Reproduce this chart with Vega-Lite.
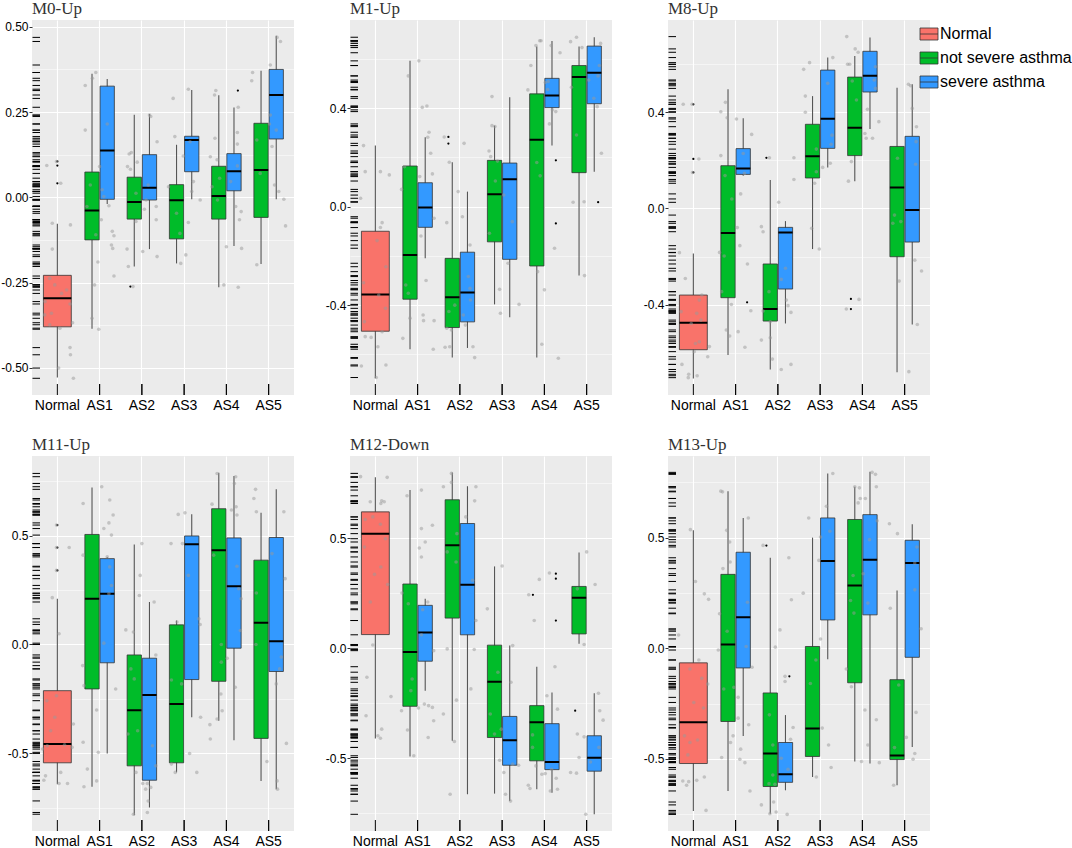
{
"$schema":"https://vega.github.io/schema/vega-lite/v6.json",
"background":"white",
"padding":{"left":0,"top":0,"right":0,"bottom":0},
"config":{
 "view":{"fill":"#EBEBEB","stroke":null},
 "axis":{"domain":false,"gridColor":"#FFFFFF","labelColor":"#000000","labelFont":"Liberation Sans","tickColor":"#333333"},
 "title":{"font":"Liberation Serif","fontSize":17,"fontWeight":"normal","anchor":"start","frame":"group","color":"#333333","offset":2},
 "legend":{"orient":"none","legendX":889,"legendY":6,"labelFont":"Liberation Sans","labelFontSize":16,"labelColor":"#000000","symbolType":"M-1.5,-1H1.5V1H-1.5Z M-1.5,0H1.5","symbolSize":144,"symbolStrokeColor":"#333333","symbolStrokeWidth":1,"rowPadding":8,"labelOffset":3,"padding":0},
 "style":{
  "whisk":{"color":"#555555","strokeWidth":1.1},
  "box":{"stroke":"#333333","strokeWidth":0.8},
  "med":{"color":"#000000","stroke":"#000000","strokeWidth":2},
  "outl":{"color":"#000000","size":5,"opacity":1},
  "jit":{"color":"#999999","size":13,"opacity":0.5},
  "rug":{"color":"#000000","strokeWidth":1}
 }
},
"datasets":{
 "box0":[
  {"cat":"Normal","grp":"Normal","lo":-0.529,"q1":-0.38,"med":-0.296,"q3":-0.229,"hi":-0.078},
  {"cat":"AS1","grp":"not severe asthma","lo":-0.386,"q1":-0.125,"med":-0.039,"q3":0.074,"hi":0.362},
  {"cat":"AS1","grp":"severe asthma","lo":-0.02,"q1":-0.006,"med":0.137,"q3":0.326,"hi":0.347},
  {"cat":"AS2","grp":"not severe asthma","lo":-0.203,"q1":-0.064,"med":-0.014,"q3":0.059,"hi":0.242},
  {"cat":"AS2","grp":"severe asthma","lo":-0.152,"q1":-0.008,"med":0.028,"q3":0.125,"hi":0.244},
  {"cat":"AS3","grp":"not severe asthma","lo":-0.194,"q1":-0.122,"med":-0.009,"q3":0.037,"hi":0.154},
  {"cat":"AS3","grp":"severe asthma","lo":-0.006,"q1":0.075,"med":0.168,"q3":0.179,"hi":0.315},
  {"cat":"AS4","grp":"not severe asthma","lo":-0.264,"q1":-0.064,"med":0.004,"q3":0.091,"hi":0.299},
  {"cat":"AS4","grp":"severe asthma","lo":-0.143,"q1":0.019,"med":0.076,"q3":0.128,"hi":0.263},
  {"cat":"AS5","grp":"not severe asthma","lo":-0.196,"q1":-0.059,"med":0.08,"q3":0.217,"hi":0.371},
  {"cat":"AS5","grp":"severe asthma","lo":-0.006,"q1":0.171,"med":0.3,"q3":0.375,"hi":0.474}
 ],
 "out0":[
  {"cat":"Normal","grp":"Normal","v":0.105},{"cat":"Normal","grp":"Normal","v":0.093},{"cat":"Normal","grp":"Normal","v":0.041},
  {"cat":"AS2","grp":"not severe asthma","v":-0.262},{"cat":"AS4","grp":"severe asthma","v":0.313}
 ],
 "pts0":[
  {"cat":"Normal","v":0.105,"j":-0.02},{"cat":"Normal","v":0.093,"j":-0.25},{"cat":"Normal","v":0.041,"j":0.08},{"cat":"Normal","v":-0.076,"j":-0.12},{"cat":"Normal","v":-0.081,"j":0.31},{"cat":"Normal","v":-0.152,"j":-0.12},{"cat":"Normal","v":-0.238,"j":-0.18},{"cat":"Normal","v":-0.257,"j":-0.06},{"cat":"Normal","v":-0.282,"j":0.1},{"cat":"Normal","v":-0.272,"j":0.22},{"cat":"Normal","v":-0.306,"j":-0.29},{"cat":"Normal","v":-0.313,"j":0.3},{"cat":"Normal","v":-0.34,"j":-0.14},{"cat":"Normal","v":-0.345,"j":-0.3},{"cat":"Normal","v":-0.384,"j":0.06},{"cat":"Normal","v":-0.368,"j":0.36},{"cat":"Normal","v":-0.441,"j":0.3},{"cat":"Normal","v":-0.462,"j":0.31},{"cat":"Normal","v":-0.501,"j":0.03},{"cat":"Normal","v":-0.531,"j":0.38},{"cat":"Normal","v":-0.374,"j":-0.18},
  {"cat":"AS1","v":0.328,"j":-0.34},{"cat":"AS1","v":0.366,"j":-0.09},{"cat":"AS1","v":0.349,"j":-0.17},{"cat":"AS1","v":0.197,"j":-0.34},{"cat":"AS1","v":0.215,"j":0.18},{"cat":"AS1","v":0.09,"j":0},{"cat":"AS1","v":0.036,"j":-0.22},{"cat":"AS1","v":0.022,"j":0.06},{"cat":"AS1","v":-0.027,"j":-0.3},{"cat":"AS1","v":-0.025,"j":0.22},{"cat":"AS1","v":-0.066,"j":0.04},{"cat":"AS1","v":-0.1,"j":0.3},{"cat":"AS1","v":-0.11,"j":-0.09},{"cat":"AS1","v":-0.113,"j":0.34},{"cat":"AS1","v":-0.14,"j":0.28},{"cat":"AS1","v":-0.15,"j":0.31},{"cat":"AS1","v":-0.231,"j":0.34},{"cat":"AS1","v":-0.19,"j":-0.04},{"cat":"AS1","v":-0.257,"j":-0.12},{"cat":"AS1","v":-0.355,"j":-0.18},{"cat":"AS1","v":-0.387,"j":-0.02},{"cat":"AS1","v":0.002,"j":0.1},
  {"cat":"AS2","v":0.127,"j":-0.3},{"cat":"AS2","v":0.131,"j":-0.25},{"cat":"AS2","v":0.09,"j":-0.34},{"cat":"AS2","v":0.082,"j":-0.27},{"cat":"AS2","v":0.103,"j":-0.11},{"cat":"AS2","v":0.241,"j":0.18},{"cat":"AS2","v":0.237,"j":0.21},{"cat":"AS2","v":0.163,"j":0.36},{"cat":"AS2","v":0.036,"j":0.15},{"cat":"AS2","v":-0.008,"j":0.1},{"cat":"AS2","v":-0.035,"j":0.06},{"cat":"AS2","v":-0.027,"j":0.34},{"cat":"AS2","v":-0.071,"j":-0.14},{"cat":"AS2","v":-0.066,"j":0.34},{"cat":"AS2","v":-0.152,"j":-0.35},{"cat":"AS2","v":-0.159,"j":0.02},{"cat":"AS2","v":-0.174,"j":0.36},{"cat":"AS2","v":-0.203,"j":-0.32},{"cat":"AS2","v":-0.262,"j":-0.21},{"cat":"AS2","v":0.012,"j":-0.14},
  {"cat":"AS3","v":0.29,"j":-0.26},{"cat":"AS3","v":0.178,"j":-0.22},{"cat":"AS3","v":0.317,"j":0.1},{"cat":"AS3","v":0.163,"j":0.14},{"cat":"AS3","v":0.121,"j":-0.02},{"cat":"AS3","v":0.046,"j":0.22},{"cat":"AS3","v":0.017,"j":0.18},{"cat":"AS3","v":-0.008,"j":0.38},{"cat":"AS3","v":-0.074,"j":0.1},{"cat":"AS3","v":0.031,"j":-0.37},{"cat":"AS3","v":-0.169,"j":0.04},{"cat":"AS3","v":-0.194,"j":-0.08},{"cat":"AS3","v":-0.047,"j":-0.18},{"cat":"AS3","v":-0.106,"j":-0.1},
  {"cat":"AS4","v":0.313,"j":-0.25},{"cat":"AS4","v":0.3,"j":-0.28},{"cat":"AS4","v":0.119,"j":-0.38},{"cat":"AS4","v":0.173,"j":-0.27},{"cat":"AS4","v":0.11,"j":-0.22},{"cat":"AS4","v":0.056,"j":-0.16},{"cat":"AS4","v":0.046,"j":0.1},{"cat":"AS4","v":0.092,"j":0.26},{"cat":"AS4","v":0.156,"j":0.26},{"cat":"AS4","v":0.264,"j":0.28},{"cat":"AS4","v":0.19,"j":0.26},{"cat":"AS4","v":-0.042,"j":0.35},{"cat":"AS4","v":-0.027,"j":0.22},{"cat":"AS4","v":-0.066,"j":0.31},{"cat":"AS4","v":-0.145,"j":0},{"cat":"AS4","v":-0.15,"j":0.36},{"cat":"AS4","v":-0.257,"j":-0.06},{"cat":"AS4","v":-0.264,"j":0.28},{"cat":"AS4","v":-0.008,"j":-0.21},{"cat":"AS4","v":0.031,"j":-0.34},
  {"cat":"AS5","v":0.366,"j":-0.38},{"cat":"AS5","v":0.342,"j":-0.4},{"cat":"AS5","v":0.388,"j":0.04},{"cat":"AS5","v":0.457,"j":0.28},{"cat":"AS5","v":0.469,"j":0.2},{"cat":"AS5","v":0.241,"j":0.04},{"cat":"AS5","v":0.215,"j":0.02},{"cat":"AS5","v":0.197,"j":0.18},{"cat":"AS5","v":0.149,"j":0.08},{"cat":"AS5","v":0.036,"j":0.14},{"cat":"AS5","v":0.017,"j":0.24},{"cat":"AS5","v":-0.006,"j":0.36},{"cat":"AS5","v":-0.084,"j":0.4},{"cat":"AS5","v":-0.198,"j":-0.28},{"cat":"AS5","v":0.07,"j":-0.2},{"cat":"AS5","v":0.168,"j":-0.28}
 ],
 "box1":[
  {"cat":"Normal","grp":"Normal","lo":-0.697,"q1":-0.506,"med":-0.357,"q3":-0.1,"hi":0.248},
  {"cat":"AS1","grp":"not severe asthma","lo":-0.579,"q1":-0.376,"med":-0.196,"q3":0.165,"hi":0.592},
  {"cat":"AS1","grp":"severe asthma","lo":-0.21,"q1":-0.084,"med":-0.004,"q3":0.097,"hi":0.282},
  {"cat":"AS2","grp":"not severe asthma","lo":-0.613,"q1":-0.491,"med":-0.368,"q3":-0.21,"hi":0.18},
  {"cat":"AS2","grp":"severe asthma","lo":-0.574,"q1":-0.468,"med":-0.349,"q3":-0.185,"hi":0.061},
  {"cat":"AS3","grp":"not severe asthma","lo":-0.397,"q1":-0.143,"med":0.05,"q3":0.188,"hi":0.329},
  {"cat":"AS3","grp":"severe asthma","lo":-0.449,"q1":-0.214,"med":0.111,"q3":0.177,"hi":0.444},
  {"cat":"AS4","grp":"not severe asthma","lo":-0.613,"q1":-0.241,"med":0.272,"q3":0.458,"hi":0.65},
  {"cat":"AS4","grp":"severe asthma","lo":0.248,"q1":0.402,"med":0.451,"q3":0.521,"hi":0.673},
  {"cat":"AS5","grp":"not severe asthma","lo":-0.28,"q1":0.138,"med":0.527,"q3":0.573,"hi":0.65},
  {"cat":"AS5","grp":"severe asthma","lo":0.142,"q1":0.418,"med":0.544,"q3":0.652,"hi":0.688}
 ],
 "out1":[
  {"cat":"AS2","grp":"not severe asthma","v":0.283},{"cat":"AS2","grp":"not severe asthma","v":0.256},
  {"cat":"AS4","grp":"severe asthma","v":0.188},{"cat":"AS4","grp":"severe asthma","v":-0.068},{"cat":"AS5","grp":"severe asthma","v":0.018}
 ],
 "pts1":[
  {"cat":"Normal","v":0.248,"j":-0.28},{"cat":"Normal","v":0.142,"j":-0.24},{"cat":"Normal","v":0.142,"j":0.12},{"cat":"Normal","v":0.129,"j":0.33},{"cat":"Normal","v":-0.065,"j":0.16},{"cat":"Normal","v":-0.085,"j":0.12},{"cat":"Normal","v":-0.138,"j":0.04},{"cat":"Normal","v":-0.244,"j":0.25},{"cat":"Normal","v":-0.309,"j":-0.28},{"cat":"Normal","v":-0.359,"j":0.08},{"cat":"Normal","v":-0.413,"j":0.24},{"cat":"Normal","v":-0.467,"j":-0.26},{"cat":"Normal","v":-0.508,"j":0.16},{"cat":"Normal","v":-0.528,"j":-0.24},{"cat":"Normal","v":-0.531,"j":-0.1},{"cat":"Normal","v":-0.569,"j":0.06},{"cat":"Normal","v":-0.647,"j":-0.33},{"cat":"Normal","v":-0.643,"j":0.25},{"cat":"Normal","v":-0.694,"j":0.02},{"cat":"Normal","v":0.034,"j":-0.35},
  {"cat":"AS1","v":0.531,"j":-0.22},{"cat":"AS1","v":0.592,"j":0.03},{"cat":"AS1","v":0.403,"j":0.11},{"cat":"AS1","v":0.409,"j":0.22},{"cat":"AS1","v":0.302,"j":0.27},{"cat":"AS1","v":0.282,"j":0.24},{"cat":"AS1","v":0.217,"j":0.31},{"cat":"AS1","v":0.162,"j":-0.31},{"cat":"AS1","v":0.07,"j":-0.38},{"cat":"AS1","v":0.133,"j":0.35},{"cat":"AS1","v":0.122,"j":0.05},{"cat":"AS1","v":-0.047,"j":0.39},{"cat":"AS1","v":-0.119,"j":0.08},{"cat":"AS1","v":-0.3,"j":0.2},{"cat":"AS1","v":-0.318,"j":-0.28},{"cat":"AS1","v":-0.352,"j":-0.22},{"cat":"AS1","v":-0.453,"j":-0.18},{"cat":"AS1","v":-0.44,"j":0.13},{"cat":"AS1","v":-0.463,"j":0.14},{"cat":"AS1","v":-0.535,"j":-0.35},{"cat":"AS1","v":-0.579,"j":0.37},{"cat":"AS1","v":-0.463,"j":0.39},
  {"cat":"AS2","v":0.283,"j":-0.37},{"cat":"AS2","v":-0.065,"j":-0.31},{"cat":"AS2","v":0.18,"j":-0.25},{"cat":"AS2","v":0.061,"j":-0.04},{"cat":"AS2","v":0.257,"j":0.1},{"cat":"AS2","v":-0.041,"j":0.06},{"cat":"AS2","v":-0.156,"j":0.24},{"cat":"AS2","v":-0.284,"j":0.2},{"cat":"AS2","v":-0.332,"j":0.24},{"cat":"AS2","v":-0.426,"j":-0.26},{"cat":"AS2","v":-0.379,"j":0.25},{"cat":"AS2","v":-0.501,"j":-0.2},{"cat":"AS2","v":-0.494,"j":-0.31},{"cat":"AS2","v":-0.481,"j":0.13},{"cat":"AS2","v":-0.571,"j":-0.35},{"cat":"AS2","v":-0.569,"j":-0.24},{"cat":"AS2","v":-0.569,"j":0.31},{"cat":"AS2","v":-0.613,"j":0.35},{"cat":"AS2","v":-0.44,"j":0.08},{"cat":"AS2","v":-0.4,"j":-0.12},
  {"cat":"AS3","v":0.447,"j":-0.24},{"cat":"AS3","v":0.329,"j":-0.24},{"cat":"AS3","v":0.325,"j":-0.17},{"cat":"AS3","v":0.226,"j":-0.31},{"cat":"AS3","v":0.203,"j":-0.27},{"cat":"AS3","v":0.185,"j":-0.11},{"cat":"AS3","v":0.104,"j":-0.16},{"cat":"AS3","v":0.047,"j":0.04},{"cat":"AS3","v":-0.061,"j":0.24},{"cat":"AS3","v":-0.108,"j":-0.3},{"cat":"AS3","v":-0.336,"j":-0.06},{"cat":"AS3","v":-0.433,"j":-0.04},{"cat":"AS3","v":-0.397,"j":0.4},{"cat":"AS3","v":-0.23,"j":0.14},
  {"cat":"AS4","v":0.573,"j":-0.32},{"cat":"AS4","v":0.654,"j":-0.2},{"cat":"AS4","v":0.674,"j":-0.11},{"cat":"AS4","v":0.674,"j":-0.08},{"cat":"AS4","v":0.654,"j":0.16},{"cat":"AS4","v":0.625,"j":0.37},{"cat":"AS4","v":0.474,"j":-0.39},{"cat":"AS4","v":0.476,"j":0.08},{"cat":"AS4","v":0.508,"j":0.09},{"cat":"AS4","v":0.386,"j":0.27},{"cat":"AS4","v":0.336,"j":0.12},{"cat":"AS4","v":0.504,"j":0.02},{"cat":"AS4","v":0.179,"j":-0.18},{"cat":"AS4","v":0.125,"j":-0.1},{"cat":"AS4","v":-0.169,"j":0.24},{"cat":"AS4","v":-0.264,"j":-0.16},{"cat":"AS4","v":-0.338,"j":0},{"cat":"AS4","v":-0.559,"j":-0.06},{"cat":"AS4","v":-0.616,"j":0.33},{"cat":"AS4","v":0.393,"j":0.19},
  {"cat":"AS5","v":0.67,"j":-0.38},{"cat":"AS5","v":0.688,"j":-0.24},{"cat":"AS5","v":0.646,"j":-0.11},{"cat":"AS5","v":0.485,"j":-0.36},{"cat":"AS5","v":0.663,"j":0.33},{"cat":"AS5","v":0.573,"j":0.3},{"cat":"AS5","v":0.531,"j":0.27},{"cat":"AS5","v":0.44,"j":0.17},{"cat":"AS5","v":0.406,"j":0.25},{"cat":"AS5","v":0.018,"j":-0.32},{"cat":"AS5","v":0.02,"j":-0.06},{"cat":"AS5","v":-0.28,"j":-0.05},{"cat":"AS5","v":0.514,"j":0.05},{"cat":"AS5","v":0.291,"j":-0.24},{"cat":"AS5","v":0.217,"j":0.35}
 ],
 "box2":[
  {"cat":"Normal","grp":"Normal","lo":-0.706,"q1":-0.587,"med":-0.475,"q3":-0.36,"hi":-0.187},
  {"cat":"AS1","grp":"not severe asthma","lo":-0.609,"q1":-0.371,"med":-0.102,"q3":0.177,"hi":0.494},
  {"cat":"AS1","grp":"severe asthma","lo":0.135,"q1":0.141,"med":0.165,"q3":0.248,"hi":0.374},
  {"cat":"AS2","grp":"not severe asthma","lo":-0.669,"q1":-0.468,"med":-0.418,"q3":-0.231,"hi":0.118},
  {"cat":"AS2","grp":"severe asthma","lo":-0.478,"q1":-0.335,"med":-0.1,"q3":-0.079,"hi":-0.053},
  {"cat":"AS3","grp":"not severe asthma","lo":-0.169,"q1":0.126,"med":0.216,"q3":0.349,"hi":0.466},
  {"cat":"AS3","grp":"severe asthma","lo":0.17,"q1":0.249,"med":0.372,"q3":0.574,"hi":0.626},
  {"cat":"AS4","grp":"not severe asthma","lo":0.113,"q1":0.219,"med":0.335,"q3":0.545,"hi":0.633},
  {"cat":"AS4","grp":"severe asthma","lo":0.329,"q1":0.483,"med":0.551,"q3":0.652,"hi":0.709},
  {"cat":"AS5","grp":"not severe asthma","lo":-0.681,"q1":-0.201,"med":0.087,"q3":0.257,"hi":0.501},
  {"cat":"AS5","grp":"severe asthma","lo":-0.482,"q1":-0.14,"med":-0.007,"q3":0.299,"hi":0.515}
 ],
 "out2":[
  {"cat":"Normal","grp":"Normal","v":0.432},{"cat":"Normal","grp":"Normal","v":0.205},{"cat":"Normal","grp":"Normal","v":0.149},
  {"cat":"AS1","grp":"severe asthma","v":-0.39},{"cat":"AS2","grp":"not severe asthma","v":0.21},
  {"cat":"AS4","grp":"not severe asthma","v":-0.376},{"cat":"AS4","grp":"not severe asthma","v":-0.418}
 ],
 "pts2":[
  {"cat":"Normal","v":0.432,"j":-0.24},{"cat":"Normal","v":0.432,"j":-0.03},{"cat":"Normal","v":0.205,"j":0.13},{"cat":"Normal","v":0.149,"j":-0.02},{"cat":"Normal","v":-0.184,"j":-0.33},{"cat":"Normal","v":-0.291,"j":-0.19},{"cat":"Normal","v":-0.36,"j":0.2},{"cat":"Normal","v":-0.381,"j":0.14},{"cat":"Normal","v":-0.429,"j":-0.29},{"cat":"Normal","v":-0.436,"j":0.08},{"cat":"Normal","v":-0.464,"j":0.18},{"cat":"Normal","v":-0.478,"j":-0.05},{"cat":"Normal","v":-0.574,"j":0.38},{"cat":"Normal","v":-0.561,"j":0.05},{"cat":"Normal","v":-0.554,"j":0.14},{"cat":"Normal","v":-0.616,"j":0.34},{"cat":"Normal","v":-0.648,"j":-0.27},{"cat":"Normal","v":-0.595,"j":0.02},{"cat":"Normal","v":-0.689,"j":-0.11},{"cat":"Normal","v":-0.695,"j":0.09},{"cat":"Normal","v":-0.703,"j":-0.12},
  {"cat":"AS1","v":0.401,"j":-0.35},{"cat":"AS1","v":0.44,"j":-0.24},{"cat":"AS1","v":0.376,"j":-0.2},{"cat":"AS1","v":0.371,"j":0.02},{"cat":"AS1","v":0.307,"j":0.38},{"cat":"AS1","v":0.219,"j":-0.35},{"cat":"AS1","v":0.136,"j":-0.25},{"cat":"AS1","v":0.228,"j":0.18},{"cat":"AS1","v":0.145,"j":0.21},{"cat":"AS1","v":0.039,"j":-0.09},{"cat":"AS1","v":0.06,"j":0.12},{"cat":"AS1","v":-0.08,"j":0.04},{"cat":"AS1","v":-0.155,"j":0.1},{"cat":"AS1","v":-0.183,"j":-0.38},{"cat":"AS1","v":-0.198,"j":-0.27},{"cat":"AS1","v":-0.231,"j":0.28},{"cat":"AS1","v":-0.346,"j":-0.33},{"cat":"AS1","v":-0.425,"j":0.36},{"cat":"AS1","v":-0.399,"j":-0.1},{"cat":"AS1","v":-0.505,"j":-0.22},{"cat":"AS1","v":-0.53,"j":-0.14},{"cat":"AS1","v":-0.512,"j":0.06},{"cat":"AS1","v":-0.577,"j":0.22},
  {"cat":"AS2","v":0.21,"j":-0.2},{"cat":"AS2","v":-0.076,"j":-0.39},{"cat":"AS2","v":-0.097,"j":-0.35},{"cat":"AS2","v":0.025,"j":0.02},{"cat":"AS2","v":0.21,"j":0.38},{"cat":"AS2","v":0.12,"j":0.38},{"cat":"AS2","v":-0.249,"j":0.18},{"cat":"AS2","v":-0.295,"j":0.08},{"cat":"AS2","v":-0.381,"j":0.2},{"cat":"AS2","v":-0.426,"j":-0.35},{"cat":"AS2","v":-0.432,"j":0.31},{"cat":"AS2","v":-0.471,"j":-0.18},{"cat":"AS2","v":-0.547,"j":-0.39},{"cat":"AS2","v":-0.537,"j":-0.18},{"cat":"AS2","v":-0.626,"j":-0.13},{"cat":"AS2","v":-0.669,"j":0.08},{"cat":"AS2","v":-0.648,"j":0.31},{"cat":"AS2","v":-0.404,"j":0.24},{"cat":"AS2","v":-0.346,"j":-0.21},
  {"cat":"AS3","v":0.577,"j":-0.39},{"cat":"AS3","v":0.605,"j":-0.25},{"cat":"AS3","v":0.626,"j":0.3},{"cat":"AS3","v":0.466,"j":-0.35},{"cat":"AS3","v":0.399,"j":-0.35},{"cat":"AS3","v":0.519,"j":0.18},{"cat":"AS3","v":0.304,"j":0.28},{"cat":"AS3","v":0.266,"j":0.26},{"cat":"AS3","v":0.246,"j":-0.09},{"cat":"AS3","v":0.152,"j":-0.09},{"cat":"AS3","v":0.17,"j":0.06},{"cat":"AS3","v":0.104,"j":-0.13},{"cat":"AS3","v":0.187,"j":0.24},{"cat":"AS3","v":-0.169,"j":-0.02},{"cat":"AS3","v":-0.083,"j":-0.2},
  {"cat":"AS4","v":0.713,"j":-0.37},{"cat":"AS4","v":0.662,"j":-0.17},{"cat":"AS4","v":0.648,"j":-0.1},{"cat":"AS4","v":0.598,"j":-0.35},{"cat":"AS4","v":0.598,"j":-0.3},{"cat":"AS4","v":0.529,"j":-0.24},{"cat":"AS4","v":0.45,"j":-0.14},{"cat":"AS4","v":0.411,"j":0.12},{"cat":"AS4","v":0.588,"j":0.31},{"cat":"AS4","v":0.498,"j":0.31},{"cat":"AS4","v":0.533,"j":0.28},{"cat":"AS4","v":0.36,"j":0.39},{"cat":"AS4","v":0.311,"j":0.06},{"cat":"AS4","v":0.291,"j":0.09},{"cat":"AS4","v":0.291,"j":0.24},{"cat":"AS4","v":0.194,"j":-0.26},{"cat":"AS4","v":0.113,"j":-0.33},{"cat":"AS4","v":-0.418,"j":-0.38},{"cat":"AS4","v":-0.378,"j":-0.08},
  {"cat":"AS5","v":0.515,"j":0.09},{"cat":"AS5","v":0.509,"j":0.14},{"cat":"AS5","v":0.339,"j":0.28},{"cat":"AS5","v":0.415,"j":0.18},{"cat":"AS5","v":0.208,"j":-0.17},{"cat":"AS5","v":0.183,"j":0.26},{"cat":"AS5","v":0.277,"j":0.27},{"cat":"AS5","v":-0.028,"j":-0.24},{"cat":"AS5","v":-0.062,"j":-0.28},{"cat":"AS5","v":-0.055,"j":-0.09},{"cat":"AS5","v":-0.215,"j":0.24},{"cat":"AS5","v":-0.26,"j":0.4},{"cat":"AS5","v":-0.302,"j":-0.13},{"cat":"AS5","v":-0.482,"j":0.3},{"cat":"AS5","v":-0.678,"j":0.1}
 ],
 "box3":[
  {"cat":"Normal","grp":"Normal","lo":-0.641,"q1":-0.543,"med":-0.457,"q3":-0.212,"hi":0.21},
  {"cat":"AS1","grp":"not severe asthma","lo":-0.653,"q1":-0.204,"med":0.21,"q3":0.505,"hi":0.721},
  {"cat":"AS1","grp":"severe asthma","lo":-0.5,"q1":-0.084,"med":0.233,"q3":0.394,"hi":0.402},
  {"cat":"AS2","grp":"not severe asthma","lo":-0.784,"q1":-0.557,"med":-0.302,"q3":-0.048,"hi":0.459},
  {"cat":"AS2","grp":"severe asthma","lo":-0.748,"q1":-0.623,"med":-0.232,"q3":-0.063,"hi":0.195},
  {"cat":"AS3","grp":"not severe asthma","lo":-0.587,"q1":-0.543,"med":-0.273,"q3":0.09,"hi":0.11},
  {"cat":"AS3","grp":"severe asthma","lo":-0.334,"q1":-0.161,"med":0.46,"q3":0.498,"hi":0.598},
  {"cat":"AS4","grp":"not severe asthma","lo":-0.35,"q1":-0.169,"med":0.433,"q3":0.623,"hi":0.788},
  {"cat":"AS4","grp":"severe asthma","lo":-0.439,"q1":-0.017,"med":0.267,"q3":0.489,"hi":0.773},
  {"cat":"AS5","grp":"not severe asthma","lo":-0.626,"q1":-0.431,"med":0.1,"q3":0.387,"hi":0.604},
  {"cat":"AS5","grp":"severe asthma","lo":-0.664,"q1":-0.124,"med":0.015,"q3":0.491,"hi":0.712}
 ],
 "out3":[
  {"cat":"Normal","grp":"Normal","v":0.548},{"cat":"Normal","grp":"Normal","v":0.445},{"cat":"Normal","grp":"Normal","v":0.34}
 ],
 "pts3":[
  {"cat":"Normal","v":0.548,"j":-0.02},{"cat":"Normal","v":0.445,"j":-0.02},{"cat":"Normal","v":0.34,"j":-0.02},{"cat":"Normal","v":0.445,"j":0.28},{"cat":"Normal","v":0.215,"j":-0.12},{"cat":"Normal","v":0.049,"j":0.04},{"cat":"Normal","v":-0.365,"j":0.38},{"cat":"Normal","v":-0.334,"j":-0.06},{"cat":"Normal","v":-0.258,"j":-0.25},{"cat":"Normal","v":-0.396,"j":-0.16},{"cat":"Normal","v":-0.48,"j":-0.35},{"cat":"Normal","v":-0.465,"j":-0.24},{"cat":"Normal","v":-0.472,"j":0.35},{"cat":"Normal","v":-0.46,"j":0.17},{"cat":"Normal","v":-0.603,"j":-0.28},{"cat":"Normal","v":-0.623,"j":-0.32},{"cat":"Normal","v":-0.587,"j":0.08},{"cat":"Normal","v":-0.638,"j":0.04},{"cat":"Normal","v":-0.638,"j":0.24},{"cat":"Normal","v":-0.235,"j":-0.02},
  {"cat":"AS1","v":0.647,"j":-0.39},{"cat":"AS1","v":0.724,"j":0.05},{"cat":"AS1","v":0.663,"j":0.24},{"cat":"AS1","v":0.594,"j":0.32},{"cat":"AS1","v":0.558,"j":0.22},{"cat":"AS1","v":0.532,"j":0.1},{"cat":"AS1","v":0.502,"j":0.28},{"cat":"AS1","v":0.402,"j":0.18},{"cat":"AS1","v":0.41,"j":-0.39},{"cat":"AS1","v":0.356,"j":0.24},{"cat":"AS1","v":0.271,"j":0.28},{"cat":"AS1","v":0.233,"j":0.22},{"cat":"AS1","v":0.006,"j":0.1},{"cat":"AS1","v":-0.097,"j":-0.4},{"cat":"AS1","v":-0.189,"j":-0.37},{"cat":"AS1","v":-0.204,"j":0.38},{"cat":"AS1","v":-0.301,"j":-0.07},{"cat":"AS1","v":-0.449,"j":-0.39},{"cat":"AS1","v":-0.495,"j":-0.03},{"cat":"AS1","v":-0.572,"j":-0.29},{"cat":"AS1","v":-0.626,"j":-0.07},{"cat":"AS1","v":-0.653,"j":-0.37},
  {"cat":"AS2","v":0.067,"j":-0.38},{"cat":"AS2","v":0.057,"j":-0.2},{"cat":"AS2","v":0.317,"j":-0.04},{"cat":"AS2","v":0.463,"j":0},{"cat":"AS2","v":0.225,"j":-0.06},{"cat":"AS2","v":0.195,"j":0.29},{"cat":"AS2","v":-0.048,"j":0.33},{"cat":"AS2","v":-0.112,"j":-0.26},{"cat":"AS2","v":-0.158,"j":-0.18},{"cat":"AS2","v":-0.396,"j":-0.1},{"cat":"AS2","v":-0.411,"j":-0.33},{"cat":"AS2","v":-0.465,"j":0.25},{"cat":"AS2","v":-0.557,"j":0.33},{"cat":"AS2","v":-0.587,"j":-0.14},{"cat":"AS2","v":-0.638,"j":0.13},{"cat":"AS2","v":-0.638,"j":0.02},{"cat":"AS2","v":-0.664,"j":0.09},{"cat":"AS2","v":-0.656,"j":0.21},{"cat":"AS2","v":-0.718,"j":0.15},{"cat":"AS2","v":-0.771,"j":0.13},{"cat":"AS2","v":-0.779,"j":-0.2},
  {"cat":"AS3","v":0.463,"j":-0.31},{"cat":"AS3","v":0.597,"j":-0.14},{"cat":"AS3","v":0.604,"j":0.02},{"cat":"AS3","v":0.463,"j":-0.04},{"cat":"AS3","v":0.317,"j":0.1},{"cat":"AS3","v":0.118,"j":0.35},{"cat":"AS3","v":0.092,"j":0.38},{"cat":"AS3","v":0.103,"j":-0.17},{"cat":"AS3","v":-0.163,"j":-0.3},{"cat":"AS3","v":-0.181,"j":-0.06},{"cat":"AS3","v":-0.334,"j":0.39},{"cat":"AS3","v":-0.5,"j":0.13},{"cat":"AS3","v":-0.587,"j":0.3},{"cat":"AS3","v":-0.587,"j":-0.21},{"cat":"AS3","v":-0.549,"j":-0.3},
  {"cat":"AS4","v":0.644,"j":-0.34},{"cat":"AS4","v":0.785,"j":-0.22},{"cat":"AS4","v":0.77,"j":0.22},{"cat":"AS4","v":0.739,"j":0.19},{"cat":"AS4","v":0.632,"j":0.23},{"cat":"AS4","v":0.617,"j":0.12},{"cat":"AS4","v":0.594,"j":0.25},{"cat":"AS4","v":0.41,"j":-0.3},{"cat":"AS4","v":0.359,"j":0.25},{"cat":"AS4","v":0.21,"j":0.35},{"cat":"AS4","v":0.256,"j":0.29},{"cat":"AS4","v":0.064,"j":0.33},{"cat":"AS4","v":0,"j":-0.12},{"cat":"AS4","v":-0.081,"j":-0.12},{"cat":"AS4","v":-0.063,"j":0.02},{"cat":"AS4","v":-0.196,"j":0.21},{"cat":"AS4","v":-0.227,"j":-0.13},{"cat":"AS4","v":-0.304,"j":-0.1},{"cat":"AS4","v":-0.342,"j":-0.22},{"cat":"AS4","v":-0.368,"j":-0.39},{"cat":"AS4","v":-0.434,"j":-0.38},
  {"cat":"AS5","v":0.67,"j":-0.35},{"cat":"AS5","v":0.712,"j":-0.31},{"cat":"AS5","v":0.609,"j":-0.29},{"cat":"AS5","v":0.609,"j":0.36},{"cat":"AS5","v":0.417,"j":0.08},{"cat":"AS5","v":0.236,"j":-0.29},{"cat":"AS5","v":0.302,"j":0.39},{"cat":"AS5","v":0,"j":-0.3},{"cat":"AS5","v":-0.058,"j":0.3},{"cat":"AS5","v":-0.112,"j":0.26},{"cat":"AS5","v":-0.181,"j":0.18},{"cat":"AS5","v":-0.537,"j":-0.04},{"cat":"AS5","v":-0.454,"j":0.42},{"cat":"AS5","v":-0.626,"j":0.2},{"cat":"AS5","v":-0.664,"j":0.21}
 ],
 "box4":[
  {"cat":"Normal","grp":"Normal","lo":-0.41,"q1":0.062,"med":0.521,"q3":0.62,"hi":0.777},
  {"cat":"AS1","grp":"not severe asthma","lo":-0.492,"q1":-0.264,"med":-0.017,"q3":0.292,"hi":0.719},
  {"cat":"AS1","grp":"severe asthma","lo":-0.193,"q1":-0.059,"med":0.071,"q3":0.195,"hi":0.225},
  {"cat":"AS2","grp":"not severe asthma","lo":-0.421,"q1":0.137,"med":0.468,"q3":0.675,"hi":0.799},
  {"cat":"AS2","grp":"severe asthma","lo":-0.664,"q1":0.061,"med":0.289,"q3":0.567,"hi":0.737},
  {"cat":"AS3","grp":"not severe asthma","lo":-0.661,"q1":-0.406,"med":-0.152,"q3":0.014,"hi":0.372},
  {"cat":"AS3","grp":"severe asthma","lo":-0.695,"q1":-0.532,"med":-0.418,"q3":-0.31,"hi":0.012},
  {"cat":"AS4","grp":"not severe asthma","lo":-0.641,"q1":-0.512,"med":-0.337,"q3":-0.261,"hi":-0.084},
  {"cat":"AS4","grp":"severe asthma","lo":-0.657,"q1":-0.552,"med":-0.517,"q3":-0.343,"hi":-0.201},
  {"cat":"AS5","grp":"not severe asthma","lo":0.02,"q1":0.065,"med":0.229,"q3":0.281,"hi":0.435},
  {"cat":"AS5","grp":"severe asthma","lo":-0.755,"q1":-0.559,"med":-0.498,"q3":-0.398,"hi":-0.205}
 ],
 "out4":[
  {"cat":"AS4","grp":"not severe asthma","v":0.243},{"cat":"AS4","grp":"severe asthma","v":0.339},{"cat":"AS4","grp":"severe asthma","v":0.316},{"cat":"AS4","grp":"severe asthma","v":0.126},{"cat":"AS5","grp":"not severe asthma","v":-0.284}
 ],
 "pts4":[
  {"cat":"Normal","v":0.78,"j":-0.35},{"cat":"Normal","v":0.777,"j":0.28},{"cat":"Normal","v":0.666,"j":-0.12},{"cat":"Normal","v":0.67,"j":0.15},{"cat":"Normal","v":0.666,"j":0.21},{"cat":"Normal","v":0.658,"j":0.13},{"cat":"Normal","v":0.585,"j":-0.24},{"cat":"Normal","v":0.597,"j":-0.06},{"cat":"Normal","v":0.564,"j":0.12},{"cat":"Normal","v":0.46,"j":-0.26},{"cat":"Normal","v":0.498,"j":0.24},{"cat":"Normal","v":0.336,"j":-0.02},{"cat":"Normal","v":0.369,"j":0.13},{"cat":"Normal","v":0.29,"j":0.29},{"cat":"Normal","v":0.21,"j":-0.12},{"cat":"Normal","v":0.015,"j":-0.06},{"cat":"Normal","v":-0.132,"j":-0.2},{"cat":"Normal","v":-0.22,"j":0.37},{"cat":"Normal","v":-0.307,"j":-0.22},{"cat":"Normal","v":-0.398,"j":0.06},{"cat":"Normal","v":-0.409,"j":0.12},{"cat":"Normal","v":-0.368,"j":0.15},
  {"cat":"AS1","v":0.693,"j":-0.25},{"cat":"AS1","v":0.719,"j":0.09},{"cat":"AS1","v":0.559,"j":0.35},{"cat":"AS1","v":0.544,"j":0.09},{"cat":"AS1","v":0.483,"j":0.18},{"cat":"AS1","v":0.456,"j":0.04},{"cat":"AS1","v":0.415,"j":0.09},{"cat":"AS1","v":0.251,"j":-0.37},{"cat":"AS1","v":0.202,"j":-0.22},{"cat":"AS1","v":0.175,"j":0.12},{"cat":"AS1","v":0.21,"j":0.24},{"cat":"AS1","v":0.061,"j":0.09},{"cat":"AS1","v":-0.011,"j":0.38},{"cat":"AS1","v":-0.14,"j":-0.13},{"cat":"AS1","v":-0.193,"j":-0.16},{"cat":"AS1","v":-0.272,"j":0.02},{"cat":"AS1","v":-0.254,"j":0.16},{"cat":"AS1","v":-0.261,"j":0.26},{"cat":"AS1","v":-0.269,"j":0.35},{"cat":"AS1","v":-0.284,"j":-0.38},{"cat":"AS1","v":-0.372,"j":-0.24},{"cat":"AS1","v":-0.33,"j":0.38},{"cat":"AS1","v":-0.406,"j":0.25},{"cat":"AS1","v":-0.489,"j":-0.09},
  {"cat":"AS2","v":0.734,"j":-0.39},{"cat":"AS2","v":0.795,"j":-0.2},{"cat":"AS2","v":0.754,"j":-0.2},{"cat":"AS2","v":0.734,"j":0.38},{"cat":"AS2","v":0.67,"j":0.35},{"cat":"AS2","v":0.597,"j":0.14},{"cat":"AS2","v":0.521,"j":-0.07},{"cat":"AS2","v":0.438,"j":-0.3},{"cat":"AS2","v":0.392,"j":-0.09},{"cat":"AS2","v":0.309,"j":0.3},{"cat":"AS2","v":0.126,"j":0.38},{"cat":"AS2","v":-0.003,"j":-0.3},{"cat":"AS2","v":-0.006,"j":0.34},{"cat":"AS2","v":-0.185,"j":0.26},{"cat":"AS2","v":-0.236,"j":-0.08},{"cat":"AS2","v":-0.299,"j":-0.39},{"cat":"AS2","v":-0.424,"j":-0.13},{"cat":"AS2","v":-0.664,"j":-0.23},
  {"cat":"AS3","v":0.179,"j":-0.35},{"cat":"AS3","v":0.374,"j":0},{"cat":"AS3","v":-0.109,"j":-0.1},{"cat":"AS3","v":-0.155,"j":0.21},{"cat":"AS3","v":-0.39,"j":-0.18},{"cat":"AS3","v":-0.368,"j":-0.02},{"cat":"AS3","v":-0.509,"j":-0.06},{"cat":"AS3","v":-0.565,"j":0.04},{"cat":"AS3","v":-0.527,"j":0.25},{"cat":"AS3","v":-0.532,"j":0.39},{"cat":"AS3","v":-0.664,"j":0.08},{"cat":"AS3","v":-0.695,"j":0.2},{"cat":"AS3","v":0.012,"j":0.25},{"cat":"AS3","v":-0.299,"j":-0.28},
  {"cat":"AS4","v":0.243,"j":-0.37},{"cat":"AS4","v":0.313,"j":-0.12},{"cat":"AS4","v":0.126,"j":-0.24},{"cat":"AS4","v":0.342,"j":0.12},{"cat":"AS4","v":-0.084,"j":0.25},{"cat":"AS4","v":-0.216,"j":0.06},{"cat":"AS4","v":-0.277,"j":0.31},{"cat":"AS4","v":-0.394,"j":-0.28},{"cat":"AS4","v":-0.451,"j":-0.28},{"cat":"AS4","v":-0.535,"j":-0.2},{"cat":"AS4","v":-0.573,"j":-0.06},{"cat":"AS4","v":-0.57,"j":0.02},{"cat":"AS4","v":-0.55,"j":0.17},{"cat":"AS4","v":-0.591,"j":0.28},{"cat":"AS4","v":-0.623,"j":-0.38},{"cat":"AS4","v":-0.638,"j":-0.34},{"cat":"AS4","v":-0.649,"j":0.14},{"cat":"AS4","v":-0.641,"j":0.31},
  {"cat":"AS5","v":0.438,"j":0},{"cat":"AS5","v":0.29,"j":0.2},{"cat":"AS5","v":0.017,"j":-0.06},{"cat":"AS5","v":0.27,"j":-0.22},{"cat":"AS5","v":-0.205,"j":0.28},{"cat":"AS5","v":-0.284,"j":0.31},{"cat":"AS5","v":-0.327,"j":0.39},{"cat":"AS5","v":-0.39,"j":-0.22},{"cat":"AS5","v":-0.403,"j":-0.06},{"cat":"AS5","v":-0.497,"j":-0.18},{"cat":"AS5","v":-0.517,"j":0.09},{"cat":"AS5","v":-0.565,"j":-0.38},{"cat":"AS5","v":-0.568,"j":-0.24},{"cat":"AS5","v":-0.755,"j":-0.02},{"cat":"AS5","v":-0.451,"j":0.29}
 ],
 "box5":[
  {"cat":"Normal","grp":"Normal","lo":-0.736,"q1":-0.521,"med":-0.334,"q3":-0.066,"hi":0.533},
  {"cat":"AS1","grp":"not severe asthma","lo":-0.645,"q1":-0.331,"med":0.017,"q3":0.334,"hi":0.71},
  {"cat":"AS1","grp":"severe asthma","lo":-0.397,"q1":-0.089,"med":0.14,"q3":0.434,"hi":0.589},
  {"cat":"AS2","grp":"not severe asthma","lo":-0.748,"q1":-0.625,"med":-0.476,"q3":-0.202,"hi":0.409},
  {"cat":"AS2","grp":"severe asthma","lo":-0.642,"q1":-0.606,"med":-0.569,"q3":-0.426,"hi":-0.302},
  {"cat":"AS3","grp":"not severe asthma","lo":-0.582,"q1":-0.489,"med":-0.363,"q3":0.008,"hi":0.5},
  {"cat":"AS3","grp":"severe asthma","lo":-0.05,"q1":0.128,"med":0.394,"q3":0.589,"hi":0.79},
  {"cat":"AS4","grp":"not severe asthma","lo":-0.512,"q1":-0.156,"med":0.284,"q3":0.582,"hi":0.73},
  {"cat":"AS4","grp":"severe asthma","lo":-0.521,"q1":0.151,"med":0.4,"q3":0.604,"hi":0.798},
  {"cat":"AS5","grp":"not severe asthma","lo":-0.619,"q1":-0.503,"med":-0.485,"q3":-0.142,"hi":0.261},
  {"cat":"AS5","grp":"severe asthma","lo":-0.446,"q1":-0.041,"med":0.385,"q3":0.488,"hi":0.56}
 ],
 "out5":[
  {"cat":"AS2","grp":"not severe asthma","v":0.464},{"cat":"AS2","grp":"severe asthma","v":-0.127}
 ],
 "pts5":[
  {"cat":"Normal","v":0.536,"j":-0.07},{"cat":"Normal","v":0.302,"j":0.05},{"cat":"Normal","v":0.246,"j":0.26},{"cat":"Normal","v":0.221,"j":0.36},{"cat":"Normal","v":0.06,"j":-0.35},{"cat":"Normal","v":-0.053,"j":0.13},{"cat":"Normal","v":-0.094,"j":-0.08},{"cat":"Normal","v":-0.136,"j":0.2},{"cat":"Normal","v":-0.162,"j":0.34},{"cat":"Normal","v":-0.245,"j":0.01},{"cat":"Normal","v":-0.27,"j":0.24},{"cat":"Normal","v":-0.396,"j":-0.21},{"cat":"Normal","v":-0.426,"j":-0.08},{"cat":"Normal","v":-0.415,"j":0.1},{"cat":"Normal","v":-0.482,"j":-0.13},{"cat":"Normal","v":-0.6,"j":-0.25},{"cat":"Normal","v":-0.603,"j":-0.11},{"cat":"Normal","v":-0.597,"j":0.08},{"cat":"Normal","v":-0.582,"j":0.26},{"cat":"Normal","v":-0.619,"j":-0.16},{"cat":"Normal","v":-0.733,"j":0.3},
  {"cat":"AS1","v":0.71,"j":-0.35},{"cat":"AS1","v":0.707,"j":-0.31},{"cat":"AS1","v":0.533,"j":-0.21},{"cat":"AS1","v":0.48,"j":-0.14},{"cat":"AS1","v":0.39,"j":-0.13},{"cat":"AS1","v":0.36,"j":-0.3},{"cat":"AS1","v":0.589,"j":0.3},{"cat":"AS1","v":0.208,"j":0.28},{"cat":"AS1","v":0.156,"j":-0.38},{"cat":"AS1","v":0.077,"j":-0.2},{"cat":"AS1","v":-0.008,"j":-0.41},{"cat":"AS1","v":0.008,"j":0.25},{"cat":"AS1","v":-0.086,"j":0.39},{"cat":"AS1","v":-0.177,"j":-0.04},{"cat":"AS1","v":-0.184,"j":-0.28},{"cat":"AS1","v":-0.222,"j":0.06},{"cat":"AS1","v":-0.316,"j":0.06},{"cat":"AS1","v":-0.396,"j":-0.06},{"cat":"AS1","v":-0.426,"j":-0.12},{"cat":"AS1","v":-0.346,"j":0.31},{"cat":"AS1","v":-0.456,"j":0.12},{"cat":"AS1","v":-0.494,"j":-0.33},{"cat":"AS1","v":-0.502,"j":0.1},{"cat":"AS1","v":-0.517,"j":0.22},{"cat":"AS1","v":-0.645,"j":0.34},
  {"cat":"AS2","v":0.465,"j":-0.35},{"cat":"AS2","v":0.409,"j":0.26},{"cat":"AS2","v":0.219,"j":0.32},{"cat":"AS2","v":0.083,"j":0.05},{"cat":"AS2","v":0.005,"j":-0.06},{"cat":"AS2","v":-0.127,"j":0.17},{"cat":"AS2","v":-0.15,"j":0.17},{"cat":"AS2","v":-0.301,"j":-0.2},{"cat":"AS2","v":-0.358,"j":0.36},{"cat":"AS2","v":-0.411,"j":0.3},{"cat":"AS2","v":-0.437,"j":-0.12},{"cat":"AS2","v":-0.497,"j":0.08},{"cat":"AS2","v":-0.573,"j":-0.12},{"cat":"AS2","v":-0.547,"j":0.24},{"cat":"AS2","v":-0.612,"j":-0.21},{"cat":"AS2","v":-0.615,"j":-0.07},{"cat":"AS2","v":-0.708,"j":-0.39},{"cat":"AS2","v":-0.695,"j":-0.1},{"cat":"AS2","v":-0.748,"j":-0.19},{"cat":"AS2","v":-0.74,"j":-0.04},{"cat":"AS2","v":-0.751,"j":0.22},
  {"cat":"AS3","v":0.79,"j":0.3},{"cat":"AS3","v":0.642,"j":0.15},{"cat":"AS3","v":0.589,"j":-0.27},{"cat":"AS3","v":0.529,"j":0.23},{"cat":"AS3","v":0.503,"j":0.01},{"cat":"AS3","v":0.397,"j":-0.03},{"cat":"AS3","v":0.249,"j":-0.4},{"cat":"AS3","v":0.042,"j":0.01},{"cat":"AS3","v":-0.053,"j":-0.1},{"cat":"AS3","v":-0.159,"j":-0.23},{"cat":"AS3","v":-0.361,"j":0.05},{"cat":"AS3","v":-0.437,"j":0.2},{"cat":"AS3","v":-0.582,"j":-0.09},{"cat":"AS3","v":-0.539,"j":0.26},
  {"cat":"AS4","v":0.73,"j":-0.18},{"cat":"AS4","v":0.725,"j":-0.07},{"cat":"AS4","v":0.677,"j":-0.05},{"cat":"AS4","v":0.677,"j":0.07},{"cat":"AS4","v":0.657,"j":-0.1},{"cat":"AS4","v":0.795,"j":0.23},{"cat":"AS4","v":0.786,"j":0.31},{"cat":"AS4","v":0.73,"j":0.33},{"cat":"AS4","v":0.576,"j":0.35},{"cat":"AS4","v":0.491,"j":0.17},{"cat":"AS4","v":0.337,"j":0.02},{"cat":"AS4","v":0.329,"j":-0.22},{"cat":"AS4","v":0.216,"j":-0.28},{"cat":"AS4","v":0.159,"j":-0.2},{"cat":"AS4","v":0.204,"j":0.13},{"cat":"AS4","v":-0.094,"j":-0.38},{"cat":"AS4","v":-0.174,"j":-0.26},{"cat":"AS4","v":-0.279,"j":0.06},{"cat":"AS4","v":-0.323,"j":0.33},{"cat":"AS4","v":-0.437,"j":0.13},{"cat":"AS4","v":-0.512,"j":-0.02},{"cat":"AS4","v":-0.517,"j":0.4},
  {"cat":"AS5","v":0.563,"j":-0.36},{"cat":"AS5","v":0.518,"j":-0.17},{"cat":"AS5","v":0.458,"j":0.29},{"cat":"AS5","v":0.385,"j":0.24},{"cat":"AS5","v":0.264,"j":0.24},{"cat":"AS5","v":0.181,"j":-0.34},{"cat":"AS5","v":0.088,"j":0.39},{"cat":"AS5","v":-0.166,"j":-0.14},{"cat":"AS5","v":-0.403,"j":0.04},{"cat":"AS5","v":-0.449,"j":-0.24},{"cat":"AS5","v":-0.476,"j":0.24},{"cat":"AS5","v":-0.502,"j":0.2},{"cat":"AS5","v":-0.619,"j":-0.26},{"cat":"AS5","v":-0.29,"j":0.27}
 ]
},
"columns":3,
"spacing":{"row":61,"column":56},
"bounds":"flush",
"concat":[
  {"title":"M0-Up","width":262,"height":375,"data":{"name":"box0"},"resolve":{"scale":{"xOffset":"independent"}},
   "encoding":{"x":{"field":"cat","type":"nominal","scale":{"domain":["Normal","AS1","AS2","AS3","AS4","AS5"],"paddingInner":0,"paddingOuter":0.1},"axis":{"title":null,"labelAngle":0,"labelFontSize":14,"labelPadding":3,"ticks":false,"grid":true,"gridWidth":1.1,"bandPosition":0.5}}},
   "layer":[
    {"transform":[{"filter":"datum.grp == 'Normal'"}],"mark":{"type":"rule","style":"whisk"},"encoding":{"y":{"field":"lo","type":"quantitative","scale":{"domain":[-0.58,0.52],"nice":false,"zero":false},"axis":{"title":null,"labelFontSize":12,"labelPadding":1,"values":[-0.5,-0.375,-0.25,-0.125,0,0.125,0.25,0.375,0.5],"labelExpr":"abs(round(datum.value*8))%2==0 ? (datum.value<0 ? '-' : '') + format(abs(datum.value),'.2f') : ''","gridWidth":{"condition":{"test":"abs(round(datum.value*8))%2==0","value":1.1},"value":0.5},"tickSize":{"condition":{"test":"abs(round(datum.value*8))%2==0","value":3},"value":0}}},"y2":{"field":"hi"}}},
    {"transform":[{"filter":"datum.grp != 'Normal'"}],"mark":{"type":"rule","style":"whisk"},"encoding":{"xOffset":{"field":"grp","type":"nominal","scale":{"domain":["not severe asthma","severe asthma"],"paddingInner":0.06,"paddingOuter":0.42}},"y":{"field":"lo","type":"quantitative","scale":{"domain":[-0.58,0.52],"nice":false,"zero":false}},"y2":{"field":"hi"}}},
    {"transform":[{"filter":"datum.grp == 'Normal'"}],"mark":{"type":"bar","style":"box","width":{"band":0.66}},"encoding":{"y":{"field":"q1","type":"quantitative","scale":{"domain":[-0.58,0.52],"nice":false,"zero":false}},"y2":{"field":"q3"},"color":{"field":"grp","type":"nominal","title":null,"scale":{"domain":["Normal","not severe asthma","severe asthma"],"range":["#F9736A","#00BC29","#3399FF"]}}}},
    {"transform":[{"filter":"datum.grp != 'Normal'"}],"mark":{"type":"bar","style":"box"},"encoding":{"xOffset":{"field":"grp","type":"nominal","scale":{"domain":["not severe asthma","severe asthma"],"paddingInner":0.06,"paddingOuter":0.42}},"y":{"field":"q1","type":"quantitative","scale":{"domain":[-0.58,0.52],"nice":false,"zero":false}},"y2":{"field":"q3"},"color":{"field":"grp","type":"nominal","title":null,"scale":{"domain":["Normal","not severe asthma","severe asthma"],"range":["#F9736A","#00BC29","#3399FF"]}}}},
    {"transform":[{"filter":"datum.grp == 'Normal'"}],"mark":{"type":"bar","style":"med","width":{"band":0.66}},"encoding":{"y":{"field":"med","type":"quantitative","scale":{"domain":[-0.58,0.52],"nice":false,"zero":false}},"y2":{"field":"med"}}},
    {"transform":[{"filter":"datum.grp != 'Normal'"}],"mark":{"type":"bar","style":"med"},"encoding":{"xOffset":{"field":"grp","type":"nominal","scale":{"domain":["not severe asthma","severe asthma"],"paddingInner":0.06,"paddingOuter":0.42}},"y":{"field":"med","type":"quantitative","scale":{"domain":[-0.58,0.52],"nice":false,"zero":false}},"y2":{"field":"med"}}},
    {"data":{"name":"out0"},"transform":[{"filter":"datum.grp == 'Normal'"}],"mark":{"type":"circle","style":"outl"},"encoding":{"y":{"field":"v","type":"quantitative","scale":{"domain":[-0.58,0.52],"nice":false,"zero":false}}}},
    {"data":{"name":"out0"},"transform":[{"filter":"datum.grp != 'Normal'"}],"mark":{"type":"circle","style":"outl"},"encoding":{"xOffset":{"field":"grp","type":"nominal","scale":{"domain":["not severe asthma","severe asthma"],"paddingInner":0.06,"paddingOuter":0.42}},"y":{"field":"v","type":"quantitative","scale":{"domain":[-0.58,0.52],"nice":false,"zero":false}}}},
    {"data":{"name":"pts0"},"mark":{"type":"circle","style":"jit"},"encoding":{"xOffset":{"field":"j","type":"quantitative","scale":{"domain":[-0.5,0.5]}},"y":{"field":"v","type":"quantitative","scale":{"domain":[-0.58,0.52],"nice":false,"zero":false}}}},
    {"data":{"name":"pts0"},"mark":{"type":"rule","style":"rug"},"encoding":{"x":{"value":0.5},"x2":{"value":8},"y":{"field":"v","type":"quantitative","scale":{"domain":[-0.58,0.52],"nice":false,"zero":false}}}},
    {"mark":{"type":"rule","style":"rug"},"encoding":{"y":{"value":364},"y2":{"value":375}}}
   ]},
  {"title":"M1-Up","width":262,"height":375,"data":{"name":"box1"},"resolve":{"scale":{"xOffset":"independent"}},
   "encoding":{"x":{"field":"cat","type":"nominal","scale":{"domain":["Normal","AS1","AS2","AS3","AS4","AS5"],"paddingInner":0,"paddingOuter":0.1},"axis":{"title":null,"labelAngle":0,"labelFontSize":14,"labelPadding":3,"ticks":false,"grid":true,"gridWidth":1.1,"bandPosition":0.5}}},
   "layer":[
    {"transform":[{"filter":"datum.grp == 'Normal'"}],"mark":{"type":"rule","style":"whisk"},"encoding":{"y":{"field":"lo","type":"quantitative","scale":{"domain":[-0.765,0.758],"nice":false,"zero":false},"axis":{"title":null,"labelFontSize":12,"labelPadding":1,"values":[-0.6,-0.4,-0.2,0,0.2,0.4,0.6],"labelExpr":"abs(round(datum.value*5))%2==0 ? (datum.value<0 ? '-' : '') + format(abs(datum.value),'.1f') : ''","gridWidth":{"condition":{"test":"abs(round(datum.value*5))%2==0","value":1.1},"value":0.5},"tickSize":{"condition":{"test":"abs(round(datum.value*5))%2==0","value":3},"value":0}}},"y2":{"field":"hi"}}},
    {"transform":[{"filter":"datum.grp != 'Normal'"}],"mark":{"type":"rule","style":"whisk"},"encoding":{"xOffset":{"field":"grp","type":"nominal","scale":{"domain":["not severe asthma","severe asthma"],"paddingInner":0.06,"paddingOuter":0.42}},"y":{"field":"lo","type":"quantitative","scale":{"domain":[-0.765,0.758],"nice":false,"zero":false}},"y2":{"field":"hi"}}},
    {"transform":[{"filter":"datum.grp == 'Normal'"}],"mark":{"type":"bar","style":"box","width":{"band":0.66}},"encoding":{"y":{"field":"q1","type":"quantitative","scale":{"domain":[-0.765,0.758],"nice":false,"zero":false}},"y2":{"field":"q3"},"color":{"field":"grp","type":"nominal","title":null,"scale":{"domain":["Normal","not severe asthma","severe asthma"],"range":["#F9736A","#00BC29","#3399FF"]}}}},
    {"transform":[{"filter":"datum.grp != 'Normal'"}],"mark":{"type":"bar","style":"box"},"encoding":{"xOffset":{"field":"grp","type":"nominal","scale":{"domain":["not severe asthma","severe asthma"],"paddingInner":0.06,"paddingOuter":0.42}},"y":{"field":"q1","type":"quantitative","scale":{"domain":[-0.765,0.758],"nice":false,"zero":false}},"y2":{"field":"q3"},"color":{"field":"grp","type":"nominal","title":null,"scale":{"domain":["Normal","not severe asthma","severe asthma"],"range":["#F9736A","#00BC29","#3399FF"]}}}},
    {"transform":[{"filter":"datum.grp == 'Normal'"}],"mark":{"type":"bar","style":"med","width":{"band":0.66}},"encoding":{"y":{"field":"med","type":"quantitative","scale":{"domain":[-0.765,0.758],"nice":false,"zero":false}},"y2":{"field":"med"}}},
    {"transform":[{"filter":"datum.grp != 'Normal'"}],"mark":{"type":"bar","style":"med"},"encoding":{"xOffset":{"field":"grp","type":"nominal","scale":{"domain":["not severe asthma","severe asthma"],"paddingInner":0.06,"paddingOuter":0.42}},"y":{"field":"med","type":"quantitative","scale":{"domain":[-0.765,0.758],"nice":false,"zero":false}},"y2":{"field":"med"}}},
    {"data":{"name":"out1"},"transform":[{"filter":"datum.grp != 'Normal'"}],"mark":{"type":"circle","style":"outl"},"encoding":{"xOffset":{"field":"grp","type":"nominal","scale":{"domain":["not severe asthma","severe asthma"],"paddingInner":0.06,"paddingOuter":0.42}},"y":{"field":"v","type":"quantitative","scale":{"domain":[-0.765,0.758],"nice":false,"zero":false}}}},
    {"data":{"name":"pts1"},"mark":{"type":"circle","style":"jit"},"encoding":{"xOffset":{"field":"j","type":"quantitative","scale":{"domain":[-0.5,0.5]}},"y":{"field":"v","type":"quantitative","scale":{"domain":[-0.765,0.758],"nice":false,"zero":false}}}},
    {"data":{"name":"pts1"},"mark":{"type":"rule","style":"rug"},"encoding":{"x":{"value":0.5},"x2":{"value":8},"y":{"field":"v","type":"quantitative","scale":{"domain":[-0.765,0.758],"nice":false,"zero":false}}}},
    {"mark":{"type":"rule","style":"rug"},"encoding":{"y":{"value":364},"y2":{"value":375}}}
   ]},
  {"title":"M8-Up","width":262,"height":375,"data":{"name":"box2"},"resolve":{"scale":{"xOffset":"independent"}},
   "encoding":{"x":{"field":"cat","type":"nominal","scale":{"domain":["Normal","AS1","AS2","AS3","AS4","AS5"],"paddingInner":0,"paddingOuter":0.1},"axis":{"title":null,"labelAngle":0,"labelFontSize":14,"labelPadding":3,"ticks":false,"grid":true,"gridWidth":1.1,"bandPosition":0.5}}},
   "layer":[
    {"transform":[{"filter":"datum.grp == 'Normal'"}],"mark":{"type":"rule","style":"whisk"},"encoding":{"y":{"field":"lo","type":"quantitative","scale":{"domain":[-0.775,0.782],"nice":false,"zero":false},"axis":{"title":null,"labelFontSize":12,"labelPadding":1,"values":[-0.6,-0.4,-0.2,0,0.2,0.4,0.6],"labelExpr":"abs(round(datum.value*5))%2==0 ? (datum.value<0 ? '-' : '') + format(abs(datum.value),'.1f') : ''","gridWidth":{"condition":{"test":"abs(round(datum.value*5))%2==0","value":1.1},"value":0.5},"tickSize":{"condition":{"test":"abs(round(datum.value*5))%2==0","value":3},"value":0}}},"y2":{"field":"hi"}}},
    {"transform":[{"filter":"datum.grp != 'Normal'"}],"mark":{"type":"rule","style":"whisk"},"encoding":{"xOffset":{"field":"grp","type":"nominal","scale":{"domain":["not severe asthma","severe asthma"],"paddingInner":0.06,"paddingOuter":0.42}},"y":{"field":"lo","type":"quantitative","scale":{"domain":[-0.775,0.782],"nice":false,"zero":false}},"y2":{"field":"hi"}}},
    {"transform":[{"filter":"datum.grp == 'Normal'"}],"mark":{"type":"bar","style":"box","width":{"band":0.66}},"encoding":{"y":{"field":"q1","type":"quantitative","scale":{"domain":[-0.775,0.782],"nice":false,"zero":false}},"y2":{"field":"q3"},"color":{"field":"grp","type":"nominal","title":null,"scale":{"domain":["Normal","not severe asthma","severe asthma"],"range":["#F9736A","#00BC29","#3399FF"]}}}},
    {"transform":[{"filter":"datum.grp != 'Normal'"}],"mark":{"type":"bar","style":"box"},"encoding":{"xOffset":{"field":"grp","type":"nominal","scale":{"domain":["not severe asthma","severe asthma"],"paddingInner":0.06,"paddingOuter":0.42}},"y":{"field":"q1","type":"quantitative","scale":{"domain":[-0.775,0.782],"nice":false,"zero":false}},"y2":{"field":"q3"},"color":{"field":"grp","type":"nominal","title":null,"scale":{"domain":["Normal","not severe asthma","severe asthma"],"range":["#F9736A","#00BC29","#3399FF"]}}}},
    {"transform":[{"filter":"datum.grp == 'Normal'"}],"mark":{"type":"bar","style":"med","width":{"band":0.66}},"encoding":{"y":{"field":"med","type":"quantitative","scale":{"domain":[-0.775,0.782],"nice":false,"zero":false}},"y2":{"field":"med"}}},
    {"transform":[{"filter":"datum.grp != 'Normal'"}],"mark":{"type":"bar","style":"med"},"encoding":{"xOffset":{"field":"grp","type":"nominal","scale":{"domain":["not severe asthma","severe asthma"],"paddingInner":0.06,"paddingOuter":0.42}},"y":{"field":"med","type":"quantitative","scale":{"domain":[-0.775,0.782],"nice":false,"zero":false}},"y2":{"field":"med"}}},
    {"data":{"name":"out2"},"transform":[{"filter":"datum.grp == 'Normal'"}],"mark":{"type":"circle","style":"outl"},"encoding":{"y":{"field":"v","type":"quantitative","scale":{"domain":[-0.775,0.782],"nice":false,"zero":false}}}},
    {"data":{"name":"out2"},"transform":[{"filter":"datum.grp != 'Normal'"}],"mark":{"type":"circle","style":"outl"},"encoding":{"xOffset":{"field":"grp","type":"nominal","scale":{"domain":["not severe asthma","severe asthma"],"paddingInner":0.06,"paddingOuter":0.42}},"y":{"field":"v","type":"quantitative","scale":{"domain":[-0.775,0.782],"nice":false,"zero":false}}}},
    {"data":{"name":"pts2"},"mark":{"type":"circle","style":"jit"},"encoding":{"xOffset":{"field":"j","type":"quantitative","scale":{"domain":[-0.5,0.5]}},"y":{"field":"v","type":"quantitative","scale":{"domain":[-0.775,0.782],"nice":false,"zero":false}}}},
    {"data":{"name":"pts2"},"mark":{"type":"rule","style":"rug"},"encoding":{"x":{"value":0.5},"x2":{"value":8},"y":{"field":"v","type":"quantitative","scale":{"domain":[-0.775,0.782],"nice":false,"zero":false}}}},
    {"mark":{"type":"rule","style":"rug"},"encoding":{"y":{"value":364},"y2":{"value":375}}}
   ]},
  {"title":"M11-Up","width":262,"height":375,"data":{"name":"box3"},"resolve":{"scale":{"xOffset":"independent"}},
   "encoding":{"x":{"field":"cat","type":"nominal","scale":{"domain":["Normal","AS1","AS2","AS3","AS4","AS5"],"paddingInner":0,"paddingOuter":0.1},"axis":{"title":null,"labelAngle":0,"labelFontSize":14,"labelPadding":3,"ticks":false,"grid":true,"gridWidth":1.1,"bandPosition":0.5}}},
   "layer":[
    {"transform":[{"filter":"datum.grp == 'Normal'"}],"mark":{"type":"rule","style":"whisk"},"encoding":{"y":{"field":"lo","type":"quantitative","scale":{"domain":[-0.856,0.865],"nice":false,"zero":false},"axis":{"title":null,"labelFontSize":12,"labelPadding":1,"values":[-0.75,-0.5,-0.25,0,0.25,0.5,0.75],"labelExpr":"abs(round(datum.value*4))%2==0 ? (datum.value<0 ? '-' : '') + format(abs(datum.value),'.1f') : ''","gridWidth":{"condition":{"test":"abs(round(datum.value*4))%2==0","value":1.1},"value":0.5},"tickSize":{"condition":{"test":"abs(round(datum.value*4))%2==0","value":3},"value":0}}},"y2":{"field":"hi"}}},
    {"transform":[{"filter":"datum.grp != 'Normal'"}],"mark":{"type":"rule","style":"whisk"},"encoding":{"xOffset":{"field":"grp","type":"nominal","scale":{"domain":["not severe asthma","severe asthma"],"paddingInner":0.06,"paddingOuter":0.42}},"y":{"field":"lo","type":"quantitative","scale":{"domain":[-0.856,0.865],"nice":false,"zero":false}},"y2":{"field":"hi"}}},
    {"transform":[{"filter":"datum.grp == 'Normal'"}],"mark":{"type":"bar","style":"box","width":{"band":0.66}},"encoding":{"y":{"field":"q1","type":"quantitative","scale":{"domain":[-0.856,0.865],"nice":false,"zero":false}},"y2":{"field":"q3"},"color":{"field":"grp","type":"nominal","title":null,"scale":{"domain":["Normal","not severe asthma","severe asthma"],"range":["#F9736A","#00BC29","#3399FF"]}}}},
    {"transform":[{"filter":"datum.grp != 'Normal'"}],"mark":{"type":"bar","style":"box"},"encoding":{"xOffset":{"field":"grp","type":"nominal","scale":{"domain":["not severe asthma","severe asthma"],"paddingInner":0.06,"paddingOuter":0.42}},"y":{"field":"q1","type":"quantitative","scale":{"domain":[-0.856,0.865],"nice":false,"zero":false}},"y2":{"field":"q3"},"color":{"field":"grp","type":"nominal","title":null,"scale":{"domain":["Normal","not severe asthma","severe asthma"],"range":["#F9736A","#00BC29","#3399FF"]}}}},
    {"transform":[{"filter":"datum.grp == 'Normal'"}],"mark":{"type":"bar","style":"med","width":{"band":0.66}},"encoding":{"y":{"field":"med","type":"quantitative","scale":{"domain":[-0.856,0.865],"nice":false,"zero":false}},"y2":{"field":"med"}}},
    {"transform":[{"filter":"datum.grp != 'Normal'"}],"mark":{"type":"bar","style":"med"},"encoding":{"xOffset":{"field":"grp","type":"nominal","scale":{"domain":["not severe asthma","severe asthma"],"paddingInner":0.06,"paddingOuter":0.42}},"y":{"field":"med","type":"quantitative","scale":{"domain":[-0.856,0.865],"nice":false,"zero":false}},"y2":{"field":"med"}}},
    {"data":{"name":"out3"},"mark":{"type":"circle","style":"outl"},"encoding":{"y":{"field":"v","type":"quantitative","scale":{"domain":[-0.856,0.865],"nice":false,"zero":false}}}},
    {"data":{"name":"pts3"},"mark":{"type":"circle","style":"jit"},"encoding":{"xOffset":{"field":"j","type":"quantitative","scale":{"domain":[-0.5,0.5]}},"y":{"field":"v","type":"quantitative","scale":{"domain":[-0.856,0.865],"nice":false,"zero":false}}}},
    {"data":{"name":"pts3"},"mark":{"type":"rule","style":"rug"},"encoding":{"x":{"value":0.5},"x2":{"value":8},"y":{"field":"v","type":"quantitative","scale":{"domain":[-0.856,0.865],"nice":false,"zero":false}}}},
    {"mark":{"type":"rule","style":"rug"},"encoding":{"y":{"value":364},"y2":{"value":375}}}
   ]},
  {"title":"M12-Down","width":262,"height":375,"data":{"name":"box4"},"resolve":{"scale":{"xOffset":"independent"}},
   "encoding":{"x":{"field":"cat","type":"nominal","scale":{"domain":["Normal","AS1","AS2","AS3","AS4","AS5"],"paddingInner":0,"paddingOuter":0.1},"axis":{"title":null,"labelAngle":0,"labelFontSize":14,"labelPadding":3,"ticks":false,"grid":true,"gridWidth":1.1,"bandPosition":0.5}}},
   "layer":[
    {"transform":[{"filter":"datum.grp == 'Normal'"}],"mark":{"type":"rule","style":"whisk"},"encoding":{"y":{"field":"lo","type":"quantitative","scale":{"domain":[-0.831,0.874],"nice":false,"zero":false},"axis":{"title":null,"labelFontSize":12,"labelPadding":1,"values":[-0.75,-0.5,-0.25,0,0.25,0.5,0.75],"labelExpr":"abs(round(datum.value*4))%2==0 ? (datum.value<0 ? '-' : '') + format(abs(datum.value),'.1f') : ''","gridWidth":{"condition":{"test":"abs(round(datum.value*4))%2==0","value":1.1},"value":0.5},"tickSize":{"condition":{"test":"abs(round(datum.value*4))%2==0","value":3},"value":0}}},"y2":{"field":"hi"}}},
    {"transform":[{"filter":"datum.grp != 'Normal'"}],"mark":{"type":"rule","style":"whisk"},"encoding":{"xOffset":{"field":"grp","type":"nominal","scale":{"domain":["not severe asthma","severe asthma"],"paddingInner":0.06,"paddingOuter":0.42}},"y":{"field":"lo","type":"quantitative","scale":{"domain":[-0.831,0.874],"nice":false,"zero":false}},"y2":{"field":"hi"}}},
    {"transform":[{"filter":"datum.grp == 'Normal'"}],"mark":{"type":"bar","style":"box","width":{"band":0.66}},"encoding":{"y":{"field":"q1","type":"quantitative","scale":{"domain":[-0.831,0.874],"nice":false,"zero":false}},"y2":{"field":"q3"},"color":{"field":"grp","type":"nominal","title":null,"scale":{"domain":["Normal","not severe asthma","severe asthma"],"range":["#F9736A","#00BC29","#3399FF"]}}}},
    {"transform":[{"filter":"datum.grp != 'Normal'"}],"mark":{"type":"bar","style":"box"},"encoding":{"xOffset":{"field":"grp","type":"nominal","scale":{"domain":["not severe asthma","severe asthma"],"paddingInner":0.06,"paddingOuter":0.42}},"y":{"field":"q1","type":"quantitative","scale":{"domain":[-0.831,0.874],"nice":false,"zero":false}},"y2":{"field":"q3"},"color":{"field":"grp","type":"nominal","title":null,"scale":{"domain":["Normal","not severe asthma","severe asthma"],"range":["#F9736A","#00BC29","#3399FF"]}}}},
    {"transform":[{"filter":"datum.grp == 'Normal'"}],"mark":{"type":"bar","style":"med","width":{"band":0.66}},"encoding":{"y":{"field":"med","type":"quantitative","scale":{"domain":[-0.831,0.874],"nice":false,"zero":false}},"y2":{"field":"med"}}},
    {"transform":[{"filter":"datum.grp != 'Normal'"}],"mark":{"type":"bar","style":"med"},"encoding":{"xOffset":{"field":"grp","type":"nominal","scale":{"domain":["not severe asthma","severe asthma"],"paddingInner":0.06,"paddingOuter":0.42}},"y":{"field":"med","type":"quantitative","scale":{"domain":[-0.831,0.874],"nice":false,"zero":false}},"y2":{"field":"med"}}},
    {"data":{"name":"out4"},"mark":{"type":"circle","style":"outl"},"encoding":{"xOffset":{"field":"grp","type":"nominal","scale":{"domain":["not severe asthma","severe asthma"],"paddingInner":0.06,"paddingOuter":0.42}},"y":{"field":"v","type":"quantitative","scale":{"domain":[-0.831,0.874],"nice":false,"zero":false}}}},
    {"data":{"name":"pts4"},"mark":{"type":"circle","style":"jit"},"encoding":{"xOffset":{"field":"j","type":"quantitative","scale":{"domain":[-0.5,0.5]}},"y":{"field":"v","type":"quantitative","scale":{"domain":[-0.831,0.874],"nice":false,"zero":false}}}},
    {"data":{"name":"pts4"},"mark":{"type":"rule","style":"rug"},"encoding":{"x":{"value":0.5},"x2":{"value":8},"y":{"field":"v","type":"quantitative","scale":{"domain":[-0.831,0.874],"nice":false,"zero":false}}}},
    {"mark":{"type":"rule","style":"rug"},"encoding":{"y":{"value":364},"y2":{"value":375}}}
   ]},
  {"title":"M13-Up","width":262,"height":375,"data":{"name":"box5"},"resolve":{"scale":{"xOffset":"independent"}},
   "encoding":{"x":{"field":"cat","type":"nominal","scale":{"domain":["Normal","AS1","AS2","AS3","AS4","AS5"],"paddingInner":0,"paddingOuter":0.1},"axis":{"title":null,"labelAngle":0,"labelFontSize":14,"labelPadding":3,"ticks":false,"grid":true,"gridWidth":1.1,"bandPosition":0.5}}},
   "layer":[
    {"transform":[{"filter":"datum.grp == 'Normal'"}],"mark":{"type":"rule","style":"whisk"},"encoding":{"y":{"field":"lo","type":"quantitative","scale":{"domain":[-0.826,0.869],"nice":false,"zero":false},"axis":{"title":null,"labelFontSize":12,"labelPadding":1,"values":[-0.75,-0.5,-0.25,0,0.25,0.5,0.75],"labelExpr":"abs(round(datum.value*4))%2==0 ? (datum.value<0 ? '-' : '') + format(abs(datum.value),'.1f') : ''","gridWidth":{"condition":{"test":"abs(round(datum.value*4))%2==0","value":1.1},"value":0.5},"tickSize":{"condition":{"test":"abs(round(datum.value*4))%2==0","value":3},"value":0}}},"y2":{"field":"hi"}}},
    {"transform":[{"filter":"datum.grp != 'Normal'"}],"mark":{"type":"rule","style":"whisk"},"encoding":{"xOffset":{"field":"grp","type":"nominal","scale":{"domain":["not severe asthma","severe asthma"],"paddingInner":0.06,"paddingOuter":0.42}},"y":{"field":"lo","type":"quantitative","scale":{"domain":[-0.826,0.869],"nice":false,"zero":false}},"y2":{"field":"hi"}}},
    {"transform":[{"filter":"datum.grp == 'Normal'"}],"mark":{"type":"bar","style":"box","width":{"band":0.66}},"encoding":{"y":{"field":"q1","type":"quantitative","scale":{"domain":[-0.826,0.869],"nice":false,"zero":false}},"y2":{"field":"q3"},"color":{"field":"grp","type":"nominal","title":null,"scale":{"domain":["Normal","not severe asthma","severe asthma"],"range":["#F9736A","#00BC29","#3399FF"]}}}},
    {"transform":[{"filter":"datum.grp != 'Normal'"}],"mark":{"type":"bar","style":"box"},"encoding":{"xOffset":{"field":"grp","type":"nominal","scale":{"domain":["not severe asthma","severe asthma"],"paddingInner":0.06,"paddingOuter":0.42}},"y":{"field":"q1","type":"quantitative","scale":{"domain":[-0.826,0.869],"nice":false,"zero":false}},"y2":{"field":"q3"},"color":{"field":"grp","type":"nominal","title":null,"scale":{"domain":["Normal","not severe asthma","severe asthma"],"range":["#F9736A","#00BC29","#3399FF"]}}}},
    {"transform":[{"filter":"datum.grp == 'Normal'"}],"mark":{"type":"bar","style":"med","width":{"band":0.66}},"encoding":{"y":{"field":"med","type":"quantitative","scale":{"domain":[-0.826,0.869],"nice":false,"zero":false}},"y2":{"field":"med"}}},
    {"transform":[{"filter":"datum.grp != 'Normal'"}],"mark":{"type":"bar","style":"med"},"encoding":{"xOffset":{"field":"grp","type":"nominal","scale":{"domain":["not severe asthma","severe asthma"],"paddingInner":0.06,"paddingOuter":0.42}},"y":{"field":"med","type":"quantitative","scale":{"domain":[-0.826,0.869],"nice":false,"zero":false}},"y2":{"field":"med"}}},
    {"data":{"name":"out5"},"mark":{"type":"circle","style":"outl"},"encoding":{"xOffset":{"field":"grp","type":"nominal","scale":{"domain":["not severe asthma","severe asthma"],"paddingInner":0.06,"paddingOuter":0.42}},"y":{"field":"v","type":"quantitative","scale":{"domain":[-0.826,0.869],"nice":false,"zero":false}}}},
    {"data":{"name":"pts5"},"mark":{"type":"circle","style":"jit"},"encoding":{"xOffset":{"field":"j","type":"quantitative","scale":{"domain":[-0.5,0.5]}},"y":{"field":"v","type":"quantitative","scale":{"domain":[-0.826,0.869],"nice":false,"zero":false}}}},
    {"data":{"name":"pts5"},"mark":{"type":"rule","style":"rug"},"encoding":{"x":{"value":0.5},"x2":{"value":8},"y":{"field":"v","type":"quantitative","scale":{"domain":[-0.826,0.869],"nice":false,"zero":false}}}},
    {"mark":{"type":"rule","style":"rug"},"encoding":{"y":{"value":364},"y2":{"value":375}}}
   ]}
]
}
